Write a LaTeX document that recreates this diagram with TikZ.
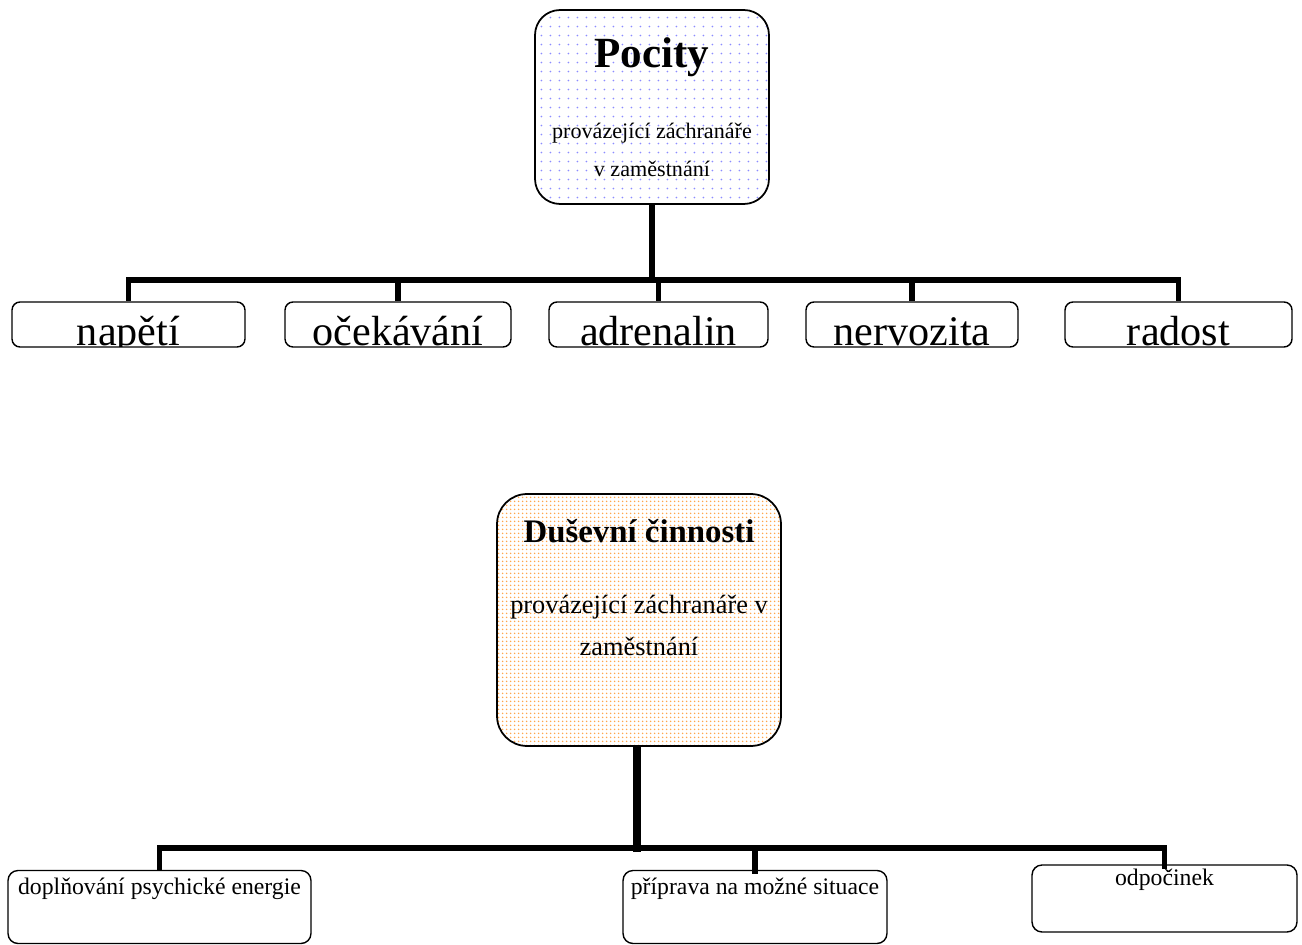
\documentclass[tikz,border=0pt]{standalone}
\usepackage{fontspec}
\setmainfont{Liberation Serif}
\usetikzlibrary{patterns.meta}

\tikzdeclarepattern{
  name=sparsedots,
  type=colored,
  bottom left={(0pt,0pt)},
  top right={(5.1pt,5.1pt)},
  tile size={(5.1pt,5.1pt)},
  code={\fill[blue!45] (2.55pt,2.55pt) circle (0.55pt);}
}
\tikzdeclarepattern{
  name=densedots,
  type=colored,
  bottom left={(0pt,0pt)},
  top right={(2.3pt,2.3pt)},
  tile size={(2.3pt,2.3pt)},
  code={\fill[orange!70] (1.15pt,1.15pt) circle (0.55pt);}
}

\tikzset{
  feeling/.style 2 args={rectangle, draw, rounded corners=0.16cm, line width=0.8pt,
    minimum height=0.9cm, inner sep=0pt,
    path picture={\node[anchor=base, inner sep=0pt, font=\fontsize{24}{24}\selectfont] (#1-text)
      at ([yshift=1pt]path picture bounding box.south) {#2};}}
}

\begin{document}
\begin{tikzpicture}[x=0.02cm, y=-0.02cm]

  \useasboundingbox (0,0) rectangle (1302,945);

  % Define custom styles for boxes and lines
  \tikzstyle{root} = [rectangle, draw, line width=1pt, align=center]
  \tikzstyle{activity} = [rectangle, draw, rounded corners=0.2cm, line width=0.8pt, inner sep=0pt,
    text height=0.48cm, text depth=0.98cm, minimum height=1.46cm, font=\fontsize{13.5}{16}\selectfont]
  \tikzstyle{bar} = [line width=2.9pt]

  % Upper tree: feelings
  \node[root, rounded corners=0.5cm, pattern=sparsedots,
    minimum width=4.68cm, minimum height=3.88cm, font=\fontsize{12.6}{21.5}\selectfont]
    (pocity) at (652,107)
    {{\fontsize{24.5}{29}\selectfont\bfseries Pocity}\\[19pt] provázející záchranáře\\ v zaměstnání};

  \node[feeling={napeti}{napětí}, minimum width=4.66cm] (napeti) at (128.5,324.5) {};
  \node[feeling={ocekavani}{očekávání}, minimum width=4.52cm] (ocekavani) at (398,324.5) {};
  \node[feeling={adrenalin}{adrenalin}, minimum width=4.38cm] (adrenalin) at (658.5,324.5) {};
  \node[feeling={nervozita}{nervozita}, minimum width=4.24cm] (nervozita) at (912,324.5) {};
  \node[feeling={radost}{radost}, minimum width=4.54cm] (radost) at (1178.5,324.5) {};

  % Lower tree: mental activities
  \node[root, rounded corners=0.6cm, pattern=densedots,
    minimum width=5.68cm, minimum height=5.04cm, font=\fontsize{15}{24}\selectfont]
    (dusevni) at (639,620)
    {{\fontsize{18.7}{22}\selectfont\bfseries Duševní činnosti}\\[16pt] provázející záchranáře v\\ zaměstnání\\[13pt] \mbox{}};

  \node[activity, minimum width=6.06cm] (doplnovani) at (159.5,907) {doplňování psychické energie};
  \node[activity, minimum width=5.28cm] (priprava) at (755,907) {příprava na možné situace};
  \node[activity, minimum width=5.3cm, text height=0.4cm, text depth=0.94cm, minimum height=1.34cm]
    (odpocinek) at (1164.5,898.5) {odpočinek};

  % Lines connecting the boxes
  \coordinate (pocityhub) at (652,280);
  \draw[bar] (pocity.south) -- (pocityhub);
  \foreach \leaf in {napeti, ocekavani, adrenalin, nervozita, radost}
    \draw[bar] (pocityhub) -| (\leaf.north);

  \coordinate (dushub) at (637,848);
  \draw[line width=4pt] (dushub |- dusevni.south) -- ([yshift=-2pt]dushub);
  \draw[bar] (dushub) -| (doplnovani.north);
  \draw[bar] (dushub) -| ([yshift=-2.5pt]priprava.north);
  \draw[bar] (dushub) -| ([yshift=-2.5pt]odpocinek.north);

\end{tikzpicture}
\end{document}
